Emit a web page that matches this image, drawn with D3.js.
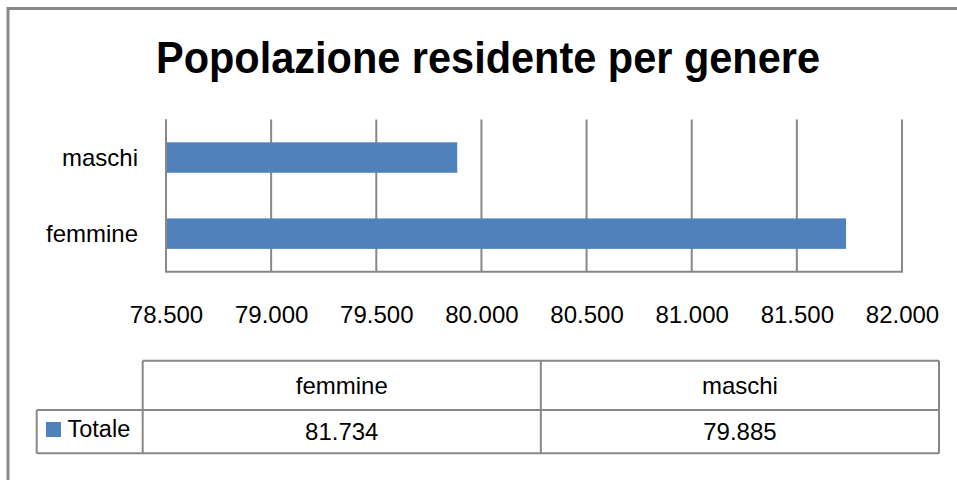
<!DOCTYPE html>
<html>
<head>
<meta charset="utf-8">
<script src="https://cdn.jsdelivr.net/npm/d3@7"></script>
<style>
  html, body { margin: 0; padding: 0; background: #fff; }
  svg { display: block; }
  text { font-family: "Liberation Sans", Arial, sans-serif; fill: #000; }
</style>
</head>
<body>
<svg id="chart" width="957" height="480"></svg>
<script>
// ---- data ----
const title = "Popolazione residente per genere";
const categories = ["femmine", "maschi"];
const values = [81734, 79885];
const seriesName = "Totale";
const tickValues = [78500, 79000, 79500, 80000, 80500, 81000, 81500, 82000];
const xDomain = [78500, 82000];

// ---- layout ----
const W = 957, H = 480;
const plot = { left: 166, right: 902, top: 119.5, bottom: 271.7 };
const barColor = "#4F81BD";
const lineColor = "#888888";

const it = d3.formatLocale({ decimal: ",", thousands: ".", grouping: [3], currency: ["€", ""] });
const fmt = it.format(",d");

const svg = d3.select("#chart");
svg.append("rect").attr("x", 0).attr("y", 0).attr("width", W).attr("height", H).attr("fill", "#fff");

// outer border (extends beyond viewport to right/bottom)
svg.append("rect")
  .attr("x", 8).attr("y", 8.5).attr("width", W + 20).attr("height", H + 20)
  .attr("fill", "none").attr("stroke", lineColor).attr("stroke-width", 3);

// title
svg.append("text")
  .attr("x", 156).attr("y", 72.7)
  .attr("textLength", 664).attr("lengthAdjust", "spacingAndGlyphs")
  .style("font-family", "'Liberation Sans Narrow', 'Arial Narrow', 'Liberation Sans', Arial, sans-serif")
  .style("font-weight", "bold").style("font-size", "45px")
  .text(title);

// scales
const x = d3.scaleLinear().domain(xDomain).range([plot.left, plot.right]);
const y = d3.scaleBand().domain(categories.slice().reverse())
  .range([plot.top, plot.bottom]).paddingInner(0.6).paddingOuter(0.3);

// gridlines
const grid = svg.append("g");
grid.selectAll("line").data(tickValues).enter().append("line")
  .attr("x1", d => x(d)).attr("x2", d => x(d))
  .attr("y1", plot.top).attr("y2", plot.bottom)
  .attr("stroke", lineColor).attr("stroke-width", 2);

// bars
svg.append("g").selectAll("rect").data(categories).enter().append("rect")
  .attr("x", x(xDomain[0]))
  .attr("y", d => y(d))
  .attr("width", (d, i) => x(values[i]) - x(xDomain[0]))
  .attr("height", y.bandwidth())
  .attr("fill", barColor);

// axes lines
svg.append("line").attr("x1", plot.left).attr("x2", plot.left)
  .attr("y1", plot.top).attr("y2", plot.bottom)
  .attr("stroke", lineColor).attr("stroke-width", 2);
svg.append("line").attr("x1", plot.left - 1).attr("x2", plot.right + 1)
  .attr("y1", plot.bottom).attr("y2", plot.bottom)
  .attr("stroke", lineColor).attr("stroke-width", 2);

// x axis labels via d3 axis
const xAxis = d3.axisBottom(x).tickValues(tickValues).tickFormat(fmt).tickSize(0).tickPadding(0);
const gx = svg.append("g").attr("transform", `translate(0,${plot.bottom})`).call(xAxis);
gx.select(".domain").remove();
gx.selectAll("text")
  .attr("dy", null).attr("y", 51.3)
  .style("font-family", "'Liberation Sans', Arial, sans-serif")
  .style("font-size", "24px").attr("fill", "#000");

// y axis labels
const yAxis = d3.axisLeft(y).tickSize(0).tickPadding(0);
const gy = svg.append("g").attr("transform", `translate(138,0)`).call(yAxis);
gy.select(".domain").remove();
gy.selectAll("text")
  .attr("dy", "0.35em")
  .style("font-family", "'Liberation Sans', Arial, sans-serif")
  .style("font-size", "24px").attr("fill", "#000");

// data table
const table = { left: 36.7, colStart: 142.7, right: 939, top: 360.7, mid: 410, bottom: 453.3 };
const colX = d3.scaleBand().domain(categories).range([table.colStart, table.right]);
const tg = svg.append("g").attr("stroke", lineColor).attr("stroke-width", 2);
// header row
tg.append("line").attr("x1", table.colStart).attr("x2", table.right).attr("y1", table.top).attr("y2", table.top);
tg.append("line").attr("x1", table.left).attr("x2", table.right).attr("y1", table.mid).attr("y2", table.mid);
tg.append("line").attr("x1", table.left).attr("x2", table.right).attr("y1", table.bottom).attr("y2", table.bottom);
tg.append("line").attr("x1", table.left).attr("x2", table.left).attr("y1", table.mid).attr("y2", table.bottom);
tg.append("line").attr("x1", table.colStart).attr("x2", table.colStart).attr("y1", table.top).attr("y2", table.bottom);
tg.selectAll("line.col").data(categories).enter().append("line").attr("class", "col")
  .attr("x1", d => colX(d) + colX.bandwidth()).attr("x2", d => colX(d) + colX.bandwidth())
  .attr("y1", table.top).attr("y2", table.bottom);

svg.append("g").selectAll("text").data(categories).enter().append("text")
  .attr("x", d => colX(d) + colX.bandwidth() / 2).attr("y", 394)
  .attr("text-anchor", "middle").style("font-size", "24px")
  .text(d => d);
svg.append("g").selectAll("text").data(values).enter().append("text")
  .attr("x", (d, i) => colX(categories[i]) + colX.bandwidth() / 2).attr("y", 440)
  .attr("text-anchor", "middle").style("font-size", "24px")
  .text(d => fmt(d));

// legend key in table
svg.append("rect").attr("x", 46).attr("y", 422).attr("width", 15).attr("height", 15).attr("fill", barColor);
svg.append("text").attr("x", 67.5).attr("y", 437).style("font-size", "23.5px").text(seriesName);
</script>
</body>
</html>
